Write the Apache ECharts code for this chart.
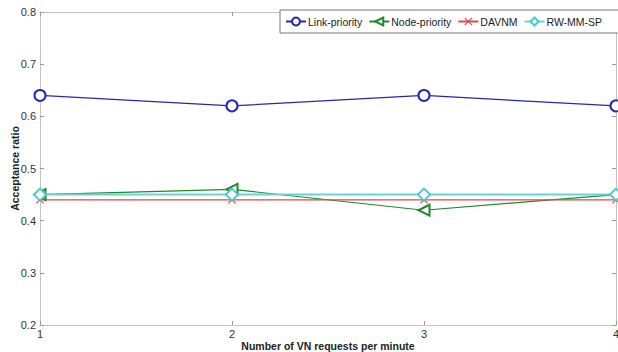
<!DOCTYPE html>
<html>
<head>
<meta charset="utf-8">
<script src="https://cdn.jsdelivr.net/npm/echarts@6/dist/echarts.min.js"></script>
<style>
  html, body { margin: 0; padding: 0; background: #fff; }
  #chart { width: 618px; height: 352px; }
</style>
</head>
<body>
<div id="chart"></div>
<script>
// Acceptance ratio vs. VN request rate for four embedding strategies
const requestRates = [1, 2, 3, 4];
const linkPriority = [0.64, 0.62, 0.64, 0.62];
const nodePriority = [0.45, 0.46, 0.42, 0.45];
const davnm = [0.44, 0.44, 0.44, 0.44];
const rwMmSp = [0.45, 0.45, 0.45, 0.45];
const yTicks = [0.2, 0.3, 0.4, 0.5, 0.6, 0.7, 0.8];

const FONT = 'Liberation Sans, Arial, sans-serif';
const pairs = vals => requestRates.map((x, i) => [x, vals[i]]);

// thin "x" cross marker as a filled outline
const CROSS = 'path://M0,1L1,0L5,4L9,0L10,1L6,5L10,9L9,10L5,6L1,10L0,9L4,5Z';

const axisGrey = '#c4c4c4';
const baseX = {
  type: 'value', min: 1, max: 4, interval: 1,
  axisLine: { show: true, lineStyle: { color: axisGrey, width: 1 } },
  axisTick: { show: true, inside: true, length: 4, lineStyle: { color: '#999' } },
  splitLine: { show: false }
};
const baseY = {
  type: 'value', min: yTicks[0], max: yTicks[yTicks.length - 1], interval: 0.1,
  axisLine: { show: true, lineStyle: { color: axisGrey, width: 1 } },
  axisTick: { show: true, inside: true, length: 4, lineStyle: { color: '#999' } },
  splitLine: { show: false }
};

function lineSeries(name, vals, color, symbol, size, extra) {
  return Object.assign({
    name, type: 'line', data: pairs(vals), xAxisIndex: 0, yAxisIndex: 0,
    symbol, symbolSize: size, showAllSymbol: true,
    lineStyle: { color, width: 1.2 },
    itemStyle: { color, borderWidth: 1 },
    emphasis: { disabled: true },
    z: 3
  }, extra || {});
}

const chart = echarts.init(document.getElementById('chart'), null, { renderer: 'svg' });
chart.setOption({
  animation: false,
  backgroundColor: '#fff',
  textStyle: { fontFamily: FONT },
  grid: { left: 40, right: 2, top: 12, bottom: 27, containLabel: false, outerBoundsMode: 'none' },
  legend: {
    left: 280, top: 10, width: 420,
    padding: [6, 30, 6, 5],
    itemWidth: 20, itemHeight: 10, itemGap: 6,
    borderColor: '#777', borderWidth: 1,
    backgroundColor: '#fff',
    textStyle: { fontFamily: FONT, fontSize: 10.5, color: '#222', padding: [0, 0, 0, -3] },
    data: ['Link-priority', 'Node-priority', 'DAVNM', 'RW-MM-SP']
  },
  xAxis: [
    Object.assign({}, baseX, {
      position: 'bottom',
      name: 'Number of VN requests per minute',
      nameLocation: 'middle', nameGap: 15, nameMoveOverlap: false,
      nameTextStyle: { fontFamily: FONT, fontSize: 10.5, fontWeight: 'bold', color: '#222' },
      axisLabel: { fontFamily: FONT, fontSize: 11, color: '#333', margin: 3 }
    }),
    Object.assign({}, baseX, { position: 'top', axisLabel: { show: false } })
  ],
  yAxis: [
    Object.assign({}, baseY, {
      position: 'left',
      name: 'Acceptance ratio',
      nameLocation: 'middle', nameGap: 20, nameMoveOverlap: false,
      nameTextStyle: { fontFamily: FONT, fontSize: 10.5, fontWeight: 'bold', color: '#222' },
      axisLabel: { fontFamily: FONT, fontSize: 11, color: '#333', margin: 4,
        formatter: v => v.toFixed(1) }
    }),
    Object.assign({}, baseY, { position: 'right', axisLabel: { show: false } })
  ],
  series: [
    lineSeries('Link-priority', linkPriority, '#2626b0', 'emptyCircle', 11),
    lineSeries('Node-priority', nodePriority, '#1e8a2a', 'emptyTriangle', 11, { symbolRotate: 90 }),
    lineSeries('DAVNM', davnm, '#e04848', CROSS, 8),
    lineSeries('RW-MM-SP', rwMmSp, '#4cc8c8', 'emptyDiamond', 12, {
      lineStyle: { color: '#66d4d4', width: 2 }
    })
  ]
});
</script>
</body>
</html>
